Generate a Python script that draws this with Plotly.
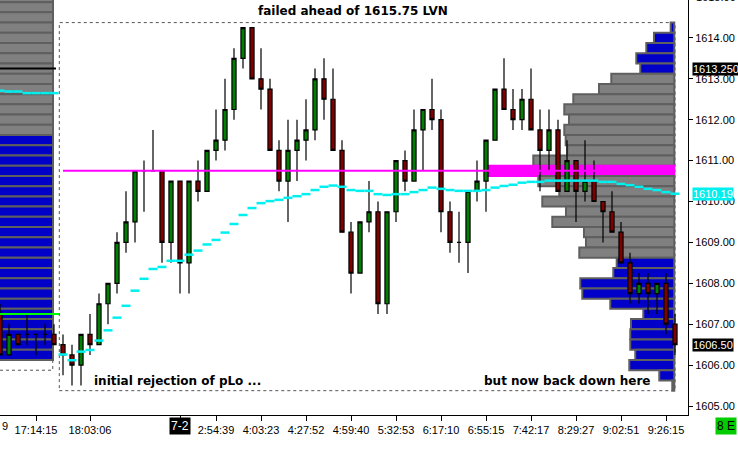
import plotly.graph_objects as go

# bar index (x position) and OHLC, 0.25 tick ES prices
bars = list(range(-7, 69))
opens = [1607.25, 1606.25, 1606.75, 1606.75, 1606.75, 1606.75, 1606.75,
         1606.5, 1606.25, 1606.0, 1606.75, 1606.5, 1607.5, 1608.0, 1609.0, 1609.5, 1610.75,
         1610.75, 1610.75, 1609.0, 1610.5, 1608.5, 1610.5, 1610.25, 1611.25, 1611.5, 1612.25,
         1613.5, 1614.25, 1613.0, 1612.75, 1611.25, 1610.5, 1611.25, 1611.5, 1611.75, 1613.0,
         1612.5, 1611.25, 1609.25, 1608.25, 1609.5, 1609.75, 1607.5, 1609.75, 1611.0, 1610.5,
         1611.75, 1612.25, 1612.0, 1609.75, 1609.0, 1609.0, 1610.25, 1610.5, 1611.5, 1612.75,
         1612.25, 1612.0, 1612.5, 1611.75, 1611.25, 1611.75, 1610.25, 1611.0, 1610.25, 1610.5,
         1610.0, 1609.75, 1609.25, 1608.5, 1607.75, 1608.0, 1607.75, 1608.0, 1607.0]
highs = [1607.5, 1607.0, 1606.75, 1607.25, 1606.75, 1607.0, 1607.0,
         1606.75, 1606.5, 1606.75, 1607.25, 1607.75, 1608.0, 1609.25, 1610.25, 1610.75, 1611.0,
         1611.75, 1610.75, 1610.5, 1610.5, 1610.5, 1611.0, 1611.25, 1612.25, 1613.0, 1613.75,
         1614.25, 1614.25, 1613.75, 1613.0, 1611.5, 1612.0, 1612.0, 1612.5, 1613.25, 1613.5,
         1613.25, 1611.5, 1609.5, 1609.5, 1610.5, 1610.0, 1609.75, 1611.0, 1611.25, 1612.25,
         1612.25, 1613.0, 1612.25, 1610.0, 1609.75, 1610.25, 1611.0, 1611.5, 1612.75, 1613.5,
         1612.75, 1612.75, 1613.25, 1612.25, 1612.25, 1612.0, 1611.5, 1611.0, 1611.5, 1611.0,
         1610.0, 1610.25, 1609.5, 1608.75, 1608.25, 1608.25, 1608.0, 1608.25, 1607.25]
lows = [1606.25, 1606.25, 1606.5, 1606.5, 1606.25, 1606.5, 1606.5,
        1605.75, 1605.5, 1605.5, 1606.25, 1606.5, 1607.0, 1607.75, 1608.75, 1609.0, 1609.75,
        1610.75, 1608.5, 1608.5, 1607.75, 1607.75, 1610.0, 1610.25, 1611.0, 1611.25, 1612.0,
        1613.25, 1613.0, 1612.25, 1611.25, 1610.25, 1609.5, 1610.5, 1611.0, 1611.5, 1612.0,
        1611.25, 1609.25, 1607.75, 1608.25, 1609.25, 1607.25, 1607.25, 1609.5, 1610.25, 1610.5,
        1610.75, 1611.75, 1609.25, 1608.75, 1608.5, 1608.25, 1610.0, 1609.75, 1611.5, 1612.25,
        1611.75, 1611.75, 1611.75, 1610.25, 1610.75, 1610.25, 1610.25, 1609.5, 1610.0, 1610.0,
        1609.0, 1609.25, 1608.5, 1607.5, 1607.5, 1607.25, 1607.25, 1606.75, 1606.25]
closes = [1606.25, 1606.75, 1606.5, 1606.75, 1606.75, 1606.75, 1606.5,
          1606.25, 1606.0, 1606.75, 1606.5, 1607.5, 1608.0, 1609.0, 1609.5, 1610.75, 1610.75,
          1610.75, 1609.0, 1610.5, 1608.5, 1610.5, 1610.25, 1611.25, 1611.5, 1612.25, 1613.5,
          1614.25, 1613.0, 1612.75, 1611.25, 1610.5, 1611.25, 1611.5, 1611.75, 1613.0, 1612.5,
          1611.25, 1609.25, 1608.25, 1609.5, 1609.75, 1607.5, 1609.75, 1611.0, 1610.5, 1611.75,
          1612.25, 1612.0, 1609.75, 1609.0, 1609.0, 1610.25, 1610.5, 1611.5, 1612.75, 1612.25,
          1612.0, 1612.5, 1611.75, 1611.25, 1611.75, 1610.25, 1611.0, 1610.25, 1610.5, 1610.0,
          1609.75, 1609.25, 1608.5, 1607.75, 1608.0, 1607.75, 1608.0, 1607.0, 1606.5]

# session vwap per bar
prev_bars = list(range(-7, 0))
prev_vwap = [1612.71, 1612.69, 1612.69, 1612.65, 1612.65, 1612.65, 1612.65]
cur_bars = list(range(0, 69))
cur_vwap = [1606.26, 1606.12, 1606.33, 1606.37, 1606.60, 1606.85, 1607.16, 1607.45, 1607.82,
            1608.11, 1608.35, 1608.40, 1608.55, 1608.55, 1608.70, 1608.80, 1608.95, 1609.06,
            1609.24, 1609.45, 1609.67, 1609.84, 1609.96, 1610.01, 1610.04, 1610.09, 1610.13,
            1610.18, 1610.28, 1610.36, 1610.39, 1610.36, 1610.28, 1610.26, 1610.26, 1610.18,
            1610.16, 1610.18, 1610.18, 1610.23, 1610.28, 1610.34, 1610.31, 1610.28, 1610.26,
            1610.26, 1610.26, 1610.28, 1610.34, 1610.38, 1610.41, 1610.46, 1610.48, 1610.48,
            1610.51, 1610.51, 1610.51, 1610.51, 1610.51, 1610.51, 1610.48, 1610.48, 1610.43,
            1610.40, 1610.36, 1610.31, 1610.28, 1610.23, 1610.19]

# current session volume profile
prof_prices = [1614.25, 1614.0, 1613.75, 1613.5, 1613.25, 1613.0, 1612.75, 1612.5, 1612.25,
               1612.0, 1611.75, 1611.5, 1611.25, 1611.0, 1610.75, 1610.5, 1610.25, 1610.0,
               1609.75, 1609.5, 1609.25, 1609.0, 1608.75, 1608.5, 1608.25, 1608.0, 1607.75,
               1607.5, 1607.25, 1607.0, 1606.75, 1606.5, 1606.25, 1606.0, 1605.75, 1605.5]
prof_vols = [36, 203, 280, 380, 340, 630, 753, 1010, 1100, 1053, 1100, 1086, 1070, 1410, 1863,
             1360, 1150, 1320, 1083, 1220, 903, 883, 950, 576, 610, 940, 920, 640, 310, 433,
             440, 440, 390, 450, 150, 20]
va_high, va_low = 1613.0, 1608.75

# previous session profile (runs off the left edge)
prev_prices = [1615.0, 1614.75, 1614.5, 1614.25, 1614.0, 1613.75, 1613.5, 1613.25, 1613.0,
               1612.75, 1612.5, 1612.25, 1612.0, 1611.75, 1611.5, 1611.25, 1611.0, 1610.75,
               1610.5, 1610.25, 1610.0, 1609.75, 1609.5, 1609.25, 1609.0, 1608.75, 1608.5,
               1608.25, 1608.0, 1607.75, 1607.5, 1607.25, 1607.0, 1606.75, 1606.5, 1606.25]
prev_vols = [900, 1000, 1100, 1150, 1250, 1300, 1400, 1500, 1450, 1400, 1350, 1300, 1250, 1200,
             1200, 1150, 1100, 1100, 1050, 1000, 1000, 950, 950, 900, 900, 850, 850, 800, 800,
             800, 750, 750, 750, 700, 700, 650]
prev_va_low = 1611.75
prev_poc = 1613.25
plo = 1607.25
last_price = 1606.5

tick_bars = [-3, 3, 13, 17, 22, 27, 32, 37, 42, 47, 52, 57, 62, 67]
tick_text = ["17:14:15", "18:03:06", "", "2:54:39", "4:03:23", "4:27:52", "4:59:40",
             "5:32:53", "6:17:10", "6:55:15", "7:42:17", "8:29:27", "9:02:51", "9:26:15"]

GRAY, BLUE, MAG, CYAN = "#808080", "#0000c8", "#ff00ff", "#00f0f0"
RIGHT = 67.92      # right edge of profile in bar units
PREV_RIGHT = -1.11
MAXW = 20.7        # POC width in bars

poc = prof_prices[prof_vols.index(max(prof_vols))]
vmax = max(prof_vols)

def steps(idx, vals):
    xs, ys = [], []
    for i, v in zip(idx, vals):
        xs += [i - 0.5, i + 0.5, None]
        ys += [v, v, None]
    return xs, ys

fig = go.Figure()

# previous profile
pcol = [GRAY if p >= prev_va_low else BLUE for p in prev_prices]
fig.add_trace(go.Bar(y=prev_prices, x=[-v / vmax * MAXW for v in prev_vols], base=PREV_RIGHT,
                     orientation="h", width=0.25, marker=dict(color=pcol,
                     line=dict(color="#5f5f5f", width=2))))

# current profile
ccol, lcol = [], []
for p in prof_prices:
    if p == poc:
        ccol.append(MAG); lcol.append(MAG)
    elif va_low <= p <= va_high:
        ccol.append(GRAY); lcol.append("#5f5f5f")
    else:
        ccol.append(BLUE); lcol.append("#5f5f5f")
fig.add_trace(go.Bar(y=prof_prices, x=[-v / vmax * MAXW for v in prof_vols], base=RIGHT,
                     orientation="h", width=0.25, marker=dict(color=ccol,
                     line=dict(color=lcol, width=2))))

# level lines
fig.add_trace(go.Scatter(x=[0, RIGHT], y=[poc, poc], mode="lines",
                         line=dict(color=MAG, width=2)))
fig.add_trace(go.Scatter(x=[-7.5, -0.78], y=[prev_poc, prev_poc], mode="lines",
                         line=dict(color="black", width=2)))
fig.add_trace(go.Scatter(x=[-7.5, -0.44], y=[plo, plo], mode="lines",
                         line=dict(color="#00ff00", width=2)))

fig.add_trace(go.Candlestick(x=bars, open=opens, high=highs, low=lows, close=closes,
                             whiskerwidth=0,
                             increasing=dict(fillcolor="#008000", line=dict(color="black", width=1.2)),
                             decreasing=dict(fillcolor="#800000", line=dict(color="black", width=1.2))))

for idx, vals in [(prev_bars, prev_vwap), (cur_bars, cur_vwap)]:
    xs, ys = steps(idx, vals)
    fig.add_trace(go.Scatter(x=xs, y=ys, mode="lines", line=dict(color=CYAN, width=2.5)))

dash = dict(color="#555555", width=1, dash="3px,3px")
fig.add_shape(type="rect", x0=-0.41, x1=68.0, y0=1605.375, y1=1614.375, line=dash, layer="below")
fig.add_shape(type="rect", x0=-9, x1=-1.14, y0=1605.875, y1=1615.6, line=dash, layer="below")

bold = dict(family="DejaVu Sans", size=12, color="black", weight="bold")
fig.add_annotation(x=32.2, y=1614.66, text="failed ahead of 1615.75 LVN", showarrow=False, font=bold)
fig.add_annotation(x=3.2, y=1605.62, text="initial rejection of pLo ...", showarrow=False,
                   font=bold, xanchor="left")
fig.add_annotation(x=46.6, y=1605.62, text="but now back down here", showarrow=False,
                   font=bold, xanchor="left")

lab = dict(family="Liberation Sans", size=11)
for val, txt, bg in [(prev_poc, "1613.250", "black"), (cur_vwap[-1], "%.2f" % cur_vwap[-1], CYAN),
                     (last_price, "%.2f" % last_price, "black")]:
    fig.add_annotation(xref="paper", x=1.0058, y=val, text=txt, showarrow=False, xanchor="left",
                       yanchor="middle", bgcolor=bg, borderpad=0, font=dict(color="white", **lab))
fig.add_annotation(xref="paper", yref="paper", x=1.0087, y=1.007, text="1615.00", showarrow=False,
                   xanchor="left", yanchor="middle", font=dict(color="black", **lab))
fig.add_annotation(x=13, yref="paper", y=-0.0265, text="7-2", showarrow=False, bgcolor="black",
                   yanchor="middle", borderpad=1,
                   font=dict(color="white", family="Liberation Sans", size=12))
fig.add_annotation(xref="paper", yref="paper", x=1.0705, y=-0.0265, text="8 E", showarrow=False,
                   xanchor="right", yanchor="middle", bgcolor="#00cc00", borderpad=1,
                   font=dict(color="black", family="Liberation Sans", size=12))
fig.add_annotation(xref="paper", yref="paper", x=0, y=-0.0265, text="9", showarrow=False,
                   xanchor="left", yanchor="middle", font=dict(color="black", **lab))

fig.update_layout(width=738, height=450, margin=dict(l=0, r=50, t=0, b=35),
                  paper_bgcolor="white", plot_bgcolor="white", showlegend=False,
                  barmode="overlay", boxgap=0.35)
fig.update_xaxes(range=[-7, 69.444], tickvals=tick_bars, ticktext=tick_text, ticks="outside",
                 ticklen=5, tickcolor="black", showline=True, linecolor="black", showgrid=False,
                 zeroline=False, rangeslider_visible=False, tickfont=dict(color="black", **lab))
fig.update_yaxes(side="right", range=[1604.78, 1614.927], tickvals=list(range(1605, 1615)),
                 tickformat=".2f", ticks="outside", ticklen=4, tickcolor="black", showline=True,
                 linecolor="black", showgrid=False, zeroline=False,
                 tickfont=dict(color="black", **lab))

# browser default body margin would shift the 738x450 figure by 8px
fig.write_html("out.html", config={"displayModeBar": False},
               post_script="document.body.style.margin='0';")
